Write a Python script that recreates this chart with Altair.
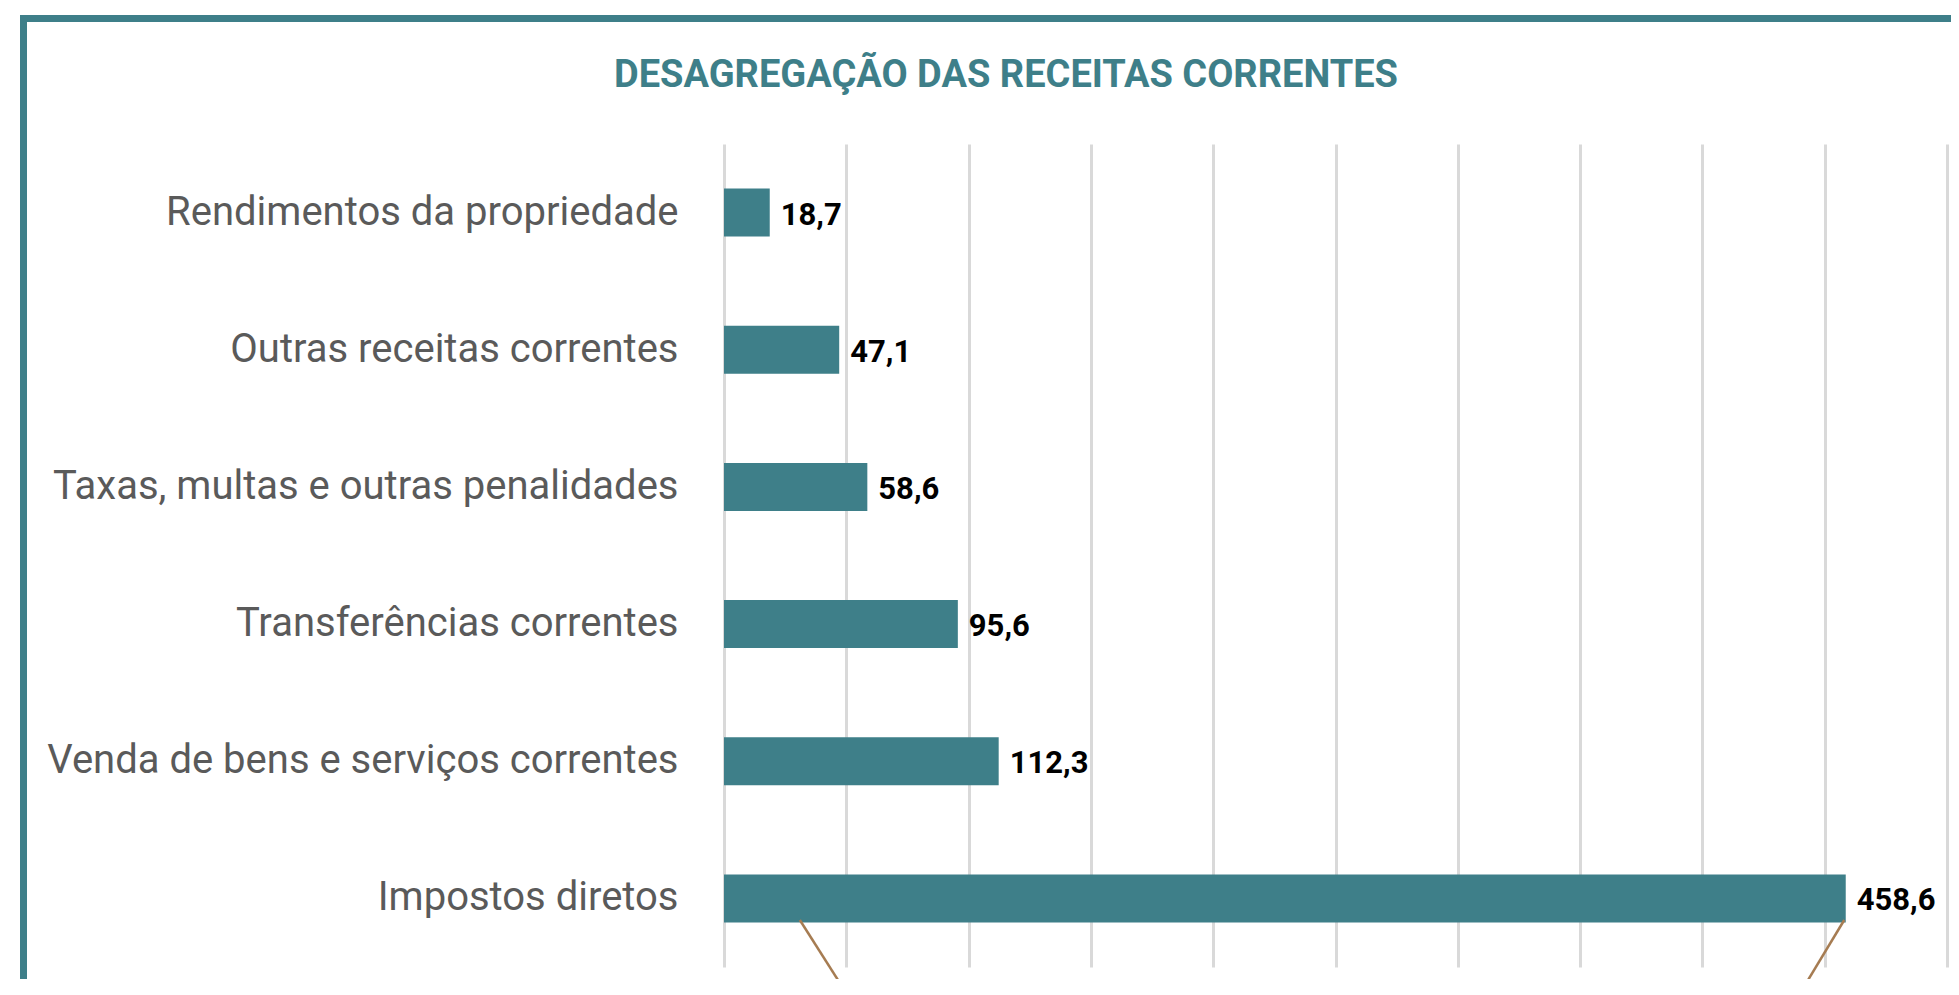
import altair as alt
import pandas as pd

categories = [
    "Rendimentos da propriedade",
    "Outras receitas correntes",
    "Taxas, multas e outras penalidades",
    "Transferências correntes",
    "Venda de bens e serviços correntes",
    "Impostos diretos",
]
values = [18.7, 47.1, 58.6, 95.6, 112.3, 458.6]
grid_ticks = [0, 50, 100, 150, 200, 250, 300, 350, 400, 450, 500]
connector_start = [31, 458]
connector_end = [50.5, 439.5]

TEAL = "#3E7F89"

df = pd.DataFrame({"categoria": categories, "valor": values})
conn_df = pd.DataFrame({"x0": connector_start, "x1": connector_end})

x_scale = alt.Scale(domain=[0, 500], nice=False, zero=True)
y_scale = alt.Scale(domain=categories, paddingInner=0.65, paddingOuter=0.325)

base = alt.Chart(df)

bars = base.mark_bar(color=TEAL).encode(
    x=alt.X(
        "valor:Q",
        scale=x_scale,
        axis=alt.Axis(
            values=grid_ticks, labels=False, ticks=False, domain=False,
            grid=True, gridColor="#D9D9D9", gridWidth=3, title=None,
        ),
    ),
    y=alt.Y(
        "categoria:N",
        sort=categories,
        scale=y_scale,
        axis=alt.Axis(
            title=None, ticks=False, domain=False, labelPadding=46,
            labelFont="Roboto", labelFontSize=40, labelColor="#5A5A5A",
            labelLimit=800,
        ),
    ),
)

labels = base.transform_calculate(
    rotulo="replace(format(datum.valor, '.1f'), '.', ',')"
).mark_text(
    align="left", baseline="middle", dx=11, dy=3,
    font="Roboto", fontSize=31, fontWeight="bold", color="black",
).encode(
    x=alt.X("valor:Q", scale=x_scale),
    y=alt.Y("categoria:N", sort=categories, scale=y_scale),
    text="rotulo:N",
)

connectors = alt.Chart(conn_df).mark_rule(color="#A67C52", strokeWidth=2.5).encode(
    x=alt.X("x0:Q", scale=x_scale),
    x2="x1:Q",
    y=alt.value(776),
    y2=alt.value(851),
)

one = alt.Data(values=[{"k": 1}])
border_top = alt.Chart(one).mark_rule(color=TEAL, strokeWidth=7).encode(
    x=alt.value(-704), x2=alt.value(1300), y=alt.value(-125.5), y2=alt.value(-125.5)
)
border_left = alt.Chart(one).mark_rule(color=TEAL, strokeWidth=7).encode(
    x=alt.value(-700.5), x2=alt.value(-700.5), y=alt.value(-129), y2=alt.value(900)
)

chart = alt.layer(bars, labels, connectors, border_top, border_left).properties(
    width=1223,
    height=823,
    autosize=alt.AutoSizeParams(type="none"),
    padding={"left": 716, "top": 136, "right": 4, "bottom": 12},
    title=alt.TitleParams(
        "DESAGREGAÇÃO DAS RECEITAS CORRENTES",
        font="Roboto", fontSize=38, fontWeight="bold", color=TEAL,
        anchor="middle", frame="group", dx=-329.5,
        baseline="alphabetic", offset=-113.5,
    ),
).configure_view(stroke=None)

chart.save("out.html", embed_options={"renderer": "svg", "actions": False})
